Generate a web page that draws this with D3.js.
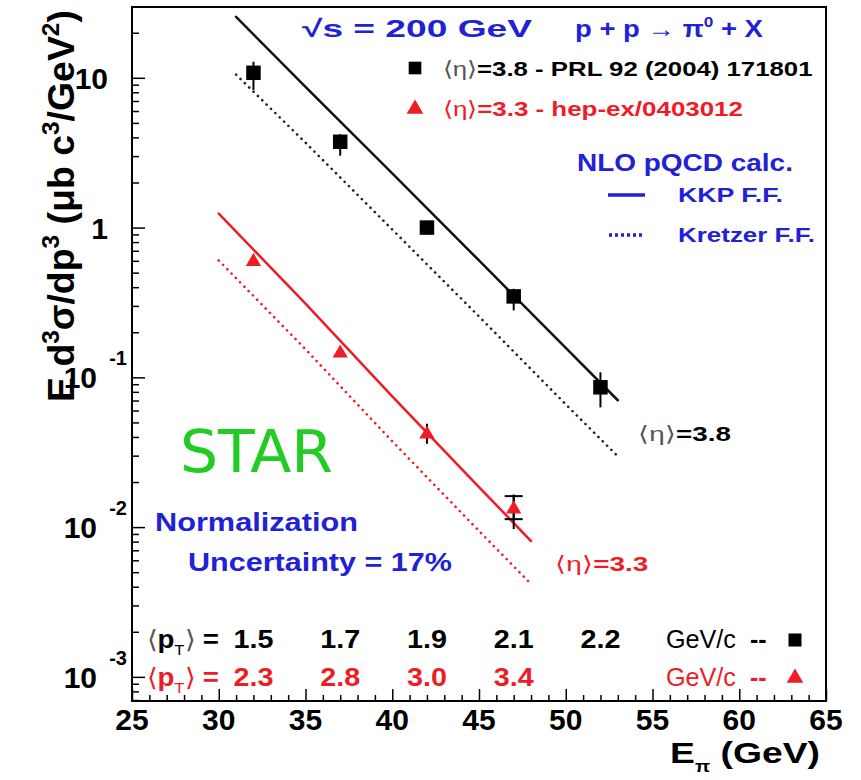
<!DOCTYPE html>
<html lang="en">
<head>
<meta charset="UTF-8">
<title>STAR pi0 cross section</title>
<script src="https://d3js.org/d3.v7.min.js"></script>
<style>
  body { margin: 0; background: #fff; }
  svg text { font-family: "Liberation Sans", Arial, Helvetica, sans-serif; }
</style>
</head>
<body>
<svg id="chart" width="861" height="780"></svg>
<script>
// data
const energies38 = [32, 37, 42, 47, 52];
const sigma38 = [10.8, 3.74, 1.0, 0.347, 0.0858];
const sigma38Lo = [8.3, 3.02, 0.9, 0.28, 0.063];
const sigma38Hi = [12.8, 4.2, 1.1, 0.39, 0.108];

const energies33 = [32, 37, 42, 47];
const sigma33 = [0.593, 0.145, 0.0417, 0.0132];
const sigma33Lo = [0.57, 0.138, 0.036, 0.0097];
const sigma33Hi = [0.62, 0.152, 0.049, 0.0165];
// extra capped bar on the last red point
const sys33E = [47];
const sys33Lo = [0.0113];
const sys33Hi = [0.0161];

// NLO pQCD curves
const kkp38E = [31, 35, 40, 45, 50, 53];
const kkp38 = [25.5, 8.71, 2.30, 0.603, 0.157, 0.0703];
const kre38E = [31, 35, 40, 45, 50, 53];
const kre38 = [10.5, 3.69, 0.97, 0.255, 0.066, 0.0297];
const kkp33E = [30, 35, 40, 45, 48];
const kkp33 = [1.24, 0.311, 0.0747, 0.0185, 0.00807];
const kre33E = [30, 35, 40, 45, 48];
const kre33 = [0.603, 0.154, 0.0374, 0.00942, 0.00417];

const ptBlack = ["1.5", "1.7", "1.9", "2.1", "2.2"];
const ptRed = ["2.3", "2.8", "3.0", "3.4"];
const xTicks = [25, 30, 35, 40, 45, 50, 55, 60, 65];
const yExps = [1, 0, -1, -2, -3];

const BLUE = "#2121d6", RED = "#ee1c24", GREEN = "#22cc22";

const svg = d3.select("#chart");
const pLeft = 132, pRight = 826, pTop = 7, pBottom = 701;

const x = d3.scaleLinear().domain([25, 65]).range([pLeft, pRight]);
const y = d3.scaleLog().domain([6.9e-4, 29.7]).range([pBottom, pTop]);

// the original lettering is stretched sideways, squeeze/stretch text into [x0,x1]
function fit(t, x0, x1) {
  const b = t.node().getBBox();
  const s = (x1 - x0) / b.width;
  t.attr("transform", `translate(${x0},0) scale(${s},1) translate(${-b.x},0)`);
  return t;
}

// frame
svg.append("rect")
  .attr("x", pLeft).attr("y", pTop)
  .attr("width", pRight - pLeft).attr("height", pBottom - pTop)
  .attr("fill", "none").attr("stroke", "#000").attr("stroke-width", 2);

// x axis ticks (pointing up)
const xMinor = d3.range(26, 65).filter(v => v % 5 !== 0);
svg.append("g").attr("transform", `translate(0,${pBottom})`)
  .call(d3.axisBottom(x).tickValues(xTicks).tickSize(-12).tickFormat(""))
  .call(g => g.select(".domain").remove());
svg.append("g").attr("transform", `translate(0,${pBottom})`)
  .call(d3.axisBottom(x).tickValues(xMinor).tickSize(-6).tickFormat(""))
  .call(g => g.select(".domain").remove());
svg.selectAll(".tick line").attr("stroke-width", 1.5);

svg.append("g").selectAll("text").data(xTicks).join("text")
  .attr("x", d => x(d)).attr("y", 730)
  .attr("text-anchor", "middle")
  .attr("font-size", 30).attr("font-weight", "bold")
  .text(d => d);

// y axis ticks (pointing right)
const yMajor = yExps.map(e => Math.pow(10, e));
const yMinor = [];
for (let e = -4; e <= 1; e++) {
  for (let m = 2; m <= 9; m++) {
    const v = m * Math.pow(10, e);
    if (v > 6.9e-4 && v < 29.7) yMinor.push(v);
  }
}
svg.append("g").attr("transform", `translate(${pLeft},0)`)
  .call(d3.axisLeft(y).tickValues(yMajor).tickSize(-13).tickFormat(""))
  .call(g => g.select(".domain").remove())
  .selectAll("line").attr("stroke-width", 1.5);
svg.append("g").attr("transform", `translate(${pLeft},0)`)
  .call(d3.axisLeft(y).tickValues(yMinor).tickSize(-7).tickFormat(""))
  .call(g => g.select(".domain").remove())
  .selectAll("line").attr("stroke-width", 1.5);

// y labels
const yl = svg.append("g").attr("font-weight", "bold");
yExps.forEach(e => {
  const yy = y(Math.pow(10, e));
  if (e === 1 || e === 0) {
    yl.append("text").attr("x", 108).attr("y", yy + 11)
      .attr("text-anchor", "end").attr("font-size", 30)
      .text(e === 1 ? "10" : "1");
  } else {
    yl.append("text").attr("x", 97).attr("y", yy + 11)
      .attr("text-anchor", "end").attr("font-size", 30).text("10");
    yl.append("text").attr("x", 127).attr("y", yy - 12)
      .attr("text-anchor", "end").attr("font-size", 20).text(String(e));
  }
});

// y title (rotated; local x runs upward on screen)
const ytG = svg.append("g").attr("transform", "translate(74,0) rotate(-90)");
const yt = ytG.append("text").attr("x", 0).attr("y", 0)
  .attr("font-size", 37).attr("font-weight", "bold");
const ytParts = [["E ", 0, 37], ["d", 0, 37], ["3", -15, 24], ["σ/dp", 15, 37], ["3", -15, 24],
  [" (μb c", 15, 37], ["3", -15, 24], ["/GeV", 15, 37], ["2", -15, 24], [")", 15, 37]];
ytParts.forEach(p => yt.append("tspan").attr("dy", p[1]).attr("font-size", p[2]).text(p[0]));
fit(yt, -402, -10);

// x title
const xt = svg.append("text").attr("x", 0).attr("y", 763)
  .attr("font-size", 30).attr("font-weight", "bold");
xt.append("tspan").text("E");
xt.append("tspan").attr("dy", 9).attr("font-size", 16).text("π");
xt.append("tspan").attr("dy", -9).text(" (GeV)");
fit(xt, 670, 820);

// curves
const line = d3.line().x(d => x(d[0])).y(d => y(d[1]));
function curve(es, vs, color, dotted) {
  svg.append("path")
    .datum(es.map((e, i) => [e, vs[i]]))
    .attr("d", line)
    .attr("fill", "none")
    .attr("stroke", color)
    .attr("stroke-width", dotted ? 2.6 : 2.5)
    .attr("stroke-linecap", "round")
    .attr("stroke-dasharray", dotted ? "0.1 6" : null);
}
curve(kkp38E, kkp38, "#111", false);
curve(kre38E, kre38, "#222", true);
curve(kkp33E, kkp33, RED, false);
curve(kre33E, kre33, RED, true);

// error bars
function errBars(es, lo, hi, cap) {
  const g = svg.append("g").attr("stroke", "#000").attr("stroke-width", 2);
  es.forEach((e, i) => {
    g.append("line").attr("x1", x(e)).attr("x2", x(e))
      .attr("y1", y(lo[i])).attr("y2", y(hi[i]));
    if (cap) {
      [lo[i], hi[i]].forEach(v => g.append("line")
        .attr("x1", x(e) - 9).attr("x2", x(e) + 9)
        .attr("y1", y(v)).attr("y2", y(v)));
    }
  });
}
errBars(energies38, sigma38Lo, sigma38Hi, false);
errBars(energies33, sigma33Lo, sigma33Hi, false);
errBars(sys33E, sys33Lo, sys33Hi, true);

// markers
const sq = d3.symbol(d3.symbolSquare, 210);
const tri = d3.symbol(d3.symbolTriangle, 100);
svg.append("g").selectAll("path").data(energies38).join("path")
  .attr("transform", (d, i) => `translate(${x(d)},${y(sigma38[i])})`)
  .attr("d", sq).attr("fill", "#000");
svg.append("g").selectAll("path").data(energies33).join("path")
  .attr("transform", (d, i) => `translate(${x(d)},${y(sigma33[i])})`)
  .attr("d", tri).attr("fill", RED);

// top legend
const lg = svg.append("g").attr("font-weight", "bold");
const h1 = lg.append("text").attr("x", 0).attr("y", 37).attr("font-size", 24).attr("fill", BLUE);
h1.append("tspan").text("√s = 200 GeV");
fit(h1, 302, 532);
const h2 = lg.append("text").attr("x", 0).attr("y", 37).attr("font-size", 24).attr("fill", BLUE);
h2.append("tspan").text("p + p → π");
h2.append("tspan").attr("dy", -10).attr("font-size", 15).text("0");
h2.append("tspan").attr("dy", 10).text(" + X");
fit(h2, 575, 763);

lg.append("path").attr("transform", "translate(415,68)")
  .attr("d", d3.symbol(d3.symbolSquare, 160)).attr("fill", "#000");
const l1 = lg.append("text").attr("x", 0).attr("y", 76).attr("font-size", 21).attr("fill", "#000");
l1.append("tspan").attr("font-weight", "normal").attr("fill", "#555").text("⟨η⟩");
l1.append("tspan").text("=3.8 - PRL 92 (2004) 171801");
fit(l1, 443, 813);

lg.append("path").attr("transform", "translate(415,109)")
  .attr("d", d3.symbol(d3.symbolTriangle, 120)).attr("fill", RED);
const l2 = lg.append("text").attr("x", 0).attr("y", 116).attr("font-size", 21).attr("fill", RED);
l2.append("tspan").attr("font-weight", "normal").text("⟨η⟩");
l2.append("tspan").text("=3.3 - hep-ex/0403012");
fit(l2, 443, 743);

fit(lg.append("text").attr("x", 0).attr("y", 171).attr("font-size", 24).attr("fill", BLUE)
  .text("NLO pQCD calc."), 577, 793);
lg.append("line").attr("x1", 608).attr("x2", 645).attr("y1", 195).attr("y2", 195)
  .attr("stroke", BLUE).attr("stroke-width", 3.5);
fit(lg.append("text").attr("x", 0).attr("y", 202).attr("font-size", 20).attr("fill", BLUE)
  .text("KKP F.F."), 678, 783);
lg.append("line").attr("x1", 609).attr("x2", 645).attr("y1", 235).attr("y2", 235)
  .attr("stroke", BLUE).attr("stroke-width", 3.5).attr("stroke-dasharray", "3 3");
fit(lg.append("text").attr("x", 0).attr("y", 242).attr("font-size", 20).attr("fill", BLUE)
  .text("Kretzer F.F."), 678, 815);

// curve labels
const e38 = svg.append("text").attr("x", 0).attr("y", 441).attr("font-size", 21).attr("font-weight", "bold");
e38.append("tspan").attr("font-weight", "normal").attr("fill", "#555").text("⟨η⟩");
e38.append("tspan").text("=3.8");
fit(e38, 638, 730);
const e33 = svg.append("text").attr("x", 0).attr("y", 571).attr("font-size", 21)
  .attr("font-weight", "bold").attr("fill", RED);
e33.append("tspan").attr("font-weight", "normal").text("⟨η⟩");
e33.append("tspan").text("=3.3");
fit(e33, 555, 647);

// STAR + normalization
fit(svg.append("text").attr("x", 0).attr("y", 472).attr("font-size", 58)
  .attr("fill", GREEN).style("font-family", "'DejaVu Sans', sans-serif")
  .attr("font-weight", "normal").text("STAR"), 180, 333);
fit(svg.append("text").attr("x", 0).attr("y", 531).attr("font-size", 25)
  .attr("font-weight", "bold").attr("fill", BLUE).text("Normalization"), 155, 358);
fit(svg.append("text").attr("x", 0).attr("y", 571).attr("font-size", 25)
  .attr("font-weight", "bold").attr("fill", BLUE).text("Uncertainty = 17%"), 188, 452);

// <pT> rows
function ptRow(vals, color, yy, marker) {
  const g = svg.append("g").attr("fill", color).attr("font-size", 25);
  const lab = g.append("text").attr("x", 0).attr("y", yy);
  lab.append("tspan").attr("font-weight", "normal").attr("fill", color === "#000" ? "#555" : color).text("⟨");
  lab.append("tspan").attr("font-weight", "bold").text("p");
  lab.append("tspan").attr("dy", 7).attr("font-size", 15).text("T");
  lab.append("tspan").attr("dy", -7).attr("font-weight", "normal").attr("fill", color === "#000" ? "#555" : color).text("⟩");
  lab.append("tspan").attr("font-weight", "bold").text(" =");
  fit(lab, 147, 220);
  vals.forEach((v, i) => {
    const cx = x(energies38[i]);
    fit(g.append("text").attr("x", 0).attr("y", yy).attr("font-weight", "bold").text(v),
      cx - 20, cx + 20);
  });
  fit(g.append("text").attr("x", 0).attr("y", yy).text("GeV/c"), 666, 736);
  g.append("text").attr("x", 750).attr("y", yy).attr("font-weight", "bold").text("--");
  g.append("path").attr("transform", `translate(795,${yy - 8})`)
    .attr("d", marker).attr("fill", color);
}
ptRow(ptBlack, "#000", 648, d3.symbol(d3.symbolSquare, 170));
ptRow(ptRed, RED, 686, d3.symbol(d3.symbolTriangle, 120));
</script>
</body>
</html>
